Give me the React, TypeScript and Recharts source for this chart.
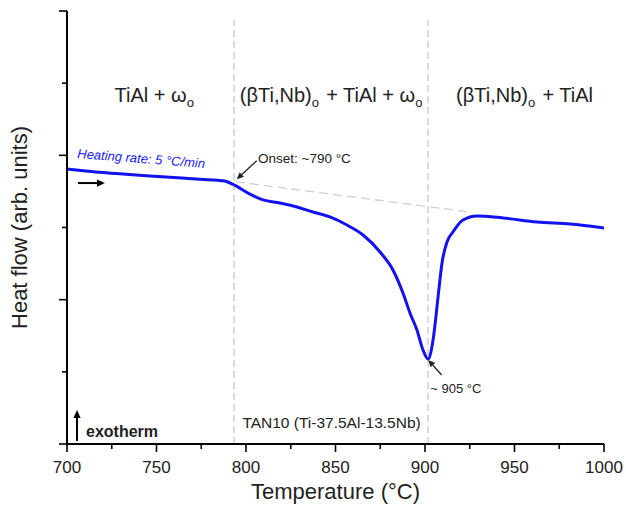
import React from "react";
import {
  LineChart,
  Line,
  XAxis,
  YAxis,
  ReferenceLine,
  ReferenceDot,
} from "recharts";

// DSC heating curve
const temperatures = [
  700, 709, 746.4, 774.3, 788, 792.5, 802.2, 809.5, 819, 828.5, 837.4, 846.9,
  856.4, 865.4, 874.9, 882.1, 887.7, 891.6, 895.5, 898.9, 901.7, 904.5, 907.3,
  909.5, 912.3, 915.6, 921.2, 929.1, 943.6, 962.6, 981, 1000,
];
const heatFlow = [
  1.905, 1.894, 1.857, 1.834, 1.822, 1.8, 1.731, 1.691, 1.67, 1.642, 1.607,
  1.573, 1.517, 1.448, 1.33, 1.206, 1.046, 0.908, 0.79, 0.651, 0.589, 0.721,
  1.019, 1.254, 1.4, 1.469, 1.552, 1.58, 1.566, 1.538, 1.524, 1.497,
];

const xTicks = [700, 725, 750, 775, 800, 825, 850, 875, 900, 925, 950, 975, 1000];
const yTicks = [0, 0.5, 1, 1.5, 2, 2.5, 3];

// phase boundaries (dashed verticals) and onset tangent
const boundaries = [793.3, 901.7];
const tangent = [
  { x: 786.6, y: 1.829 },
  { x: 925.1, y: 1.607 },
];

const data = temperatures.map((t, i) => ({ t, hf: heatFlow[i] }));

const FONT = "Arial, 'Liberation Sans', sans-serif";
const INK = "#222";

const XTick = ({ x, y, payload }: any) => {
  const major = payload.value % 50 === 0;
  return (
    <g>
      <line x1={x} y1={y} x2={x} y2={y + (major ? 8 : 5)} stroke="#000" strokeWidth={1.6} />
      {major && (
        <text x={x} y={y + 29} textAnchor="middle" fontSize={17} fill={INK} fontFamily={FONT}>
          {payload.value}
        </text>
      )}
    </g>
  );
};

const YTick = ({ x, y, payload }: any) => {
  const major = Number.isInteger(payload.value);
  return <line x1={x} y1={y} x2={x - (major ? 8 : 5)} y2={y} stroke="#000" strokeWidth={1.6} />;
};

const arrow = (x1: number, y1: number, x2: number, y2: number, color = INK, w = 1.3, head = 7) => {
  const a = Math.atan2(y2 - y1, x2 - x1);
  const hx = x2 - head * Math.cos(a);
  const hy = y2 - head * Math.sin(a);
  const px = Math.sin(a) * head * 0.45;
  const py = -Math.cos(a) * head * 0.45;
  return (
    <g>
      <line x1={x1} y1={y1} x2={hx} y2={hy} stroke={color} strokeWidth={w} />
      <polygon points={`${x2},${y2} ${hx + px},${hy + py} ${hx - px},${hy - py}`} fill={color} />
    </g>
  );
};

// annotation anchored at a data point
const note = (key: string, x: number, y: number, draw: (cx: number, cy: number) => any) => (
  <ReferenceDot
    key={key}
    x={x}
    y={y}
    r={0}
    ifOverflow="visible"
    isFront
    shape={(p: any) => draw(p.cx, p.cy)}
  />
);

const sub = (s: string) => (
  <>
    <tspan fontSize={13} dy={5}>{s}</tspan>
    <tspan dy={-5}>{"\u200a"}</tspan>
  </>
);

export default function App() {
  return (
    <div style={{ position: "absolute", left: 0, top: 0, width: 626, height: 511, background: "#fff" }}>
      <LineChart
        width={626}
        height={511}
        data={data}
        margin={{ top: 11, right: 22, left: 7, bottom: 37 }}
      >
        <XAxis
          dataKey="t"
          type="number"
          domain={[700, 1000]}
          ticks={xTicks}
          interval={0}
          tickSize={0}
          tickMargin={0}
          tickLine={false}
          tick={<XTick />}
          height={30}
          axisLine={{ stroke: "#000", strokeWidth: 2 }}
          label={(p: any) => (
            <text
              x={p.viewBox.x + p.viewBox.width / 2}
              y={p.viewBox.y + 55}
              textAnchor="middle"
              fontSize={22}
              fill={INK}
              fontFamily={FONT}
            >
              Temperature (°C)
            </text>
          )}
        />
        <YAxis
          type="number"
          domain={[0, 3]}
          ticks={yTicks}
          interval={0}
          width={60}
          tickSize={0}
          tickMargin={0}
          tickLine={false}
          tick={<YTick />}
          axisLine={{ stroke: "#000", strokeWidth: 2 }}
          label={(p: any) => {
            const cx = p.viewBox.x + 20;
            const cy = p.viewBox.y + p.viewBox.height / 2;
            return (
              <text
                x={cx}
                y={cy}
                transform={`rotate(-90, ${cx}, ${cy})`}
                textAnchor="middle"
                fontSize={22}
                fill={INK}
                fontFamily={FONT}
              >
                Heat flow (arb. units)
              </text>
            );
          }}
        />
        {boundaries.map((b) => (
          <ReferenceLine
            key={b}
            segment={[
              { x: b, y: 0 },
              { x: b, y: 2.938 },
            ]}
            stroke="#c8c8c8"
            strokeWidth={1.3}
            strokeDasharray="7 4"
          />
        ))}
        <ReferenceLine segment={tangent} stroke="#cfcfcf" strokeWidth={1.3} strokeDasharray="9 5" />
        <Line
          dataKey="hf"
          type="monotone"
          stroke="#1212f0"
          strokeWidth={3}
          dot={false}
          isAnimationActive={false}
        />

        {note("ph1", 749.2, 2.37, (cx, cy) => (
          <text x={cx} y={cy} textAnchor="middle" fontSize={20} fill={INK} fontFamily={FONT}>
            TiAl + ω{sub("o")}
          </text>
        ))}
        {note("ph2", 848, 2.37, (cx, cy) => (
          <text x={cx} y={cy} textAnchor="middle" fontSize={20} fill={INK} fontFamily={FONT}>
            (βTi,Nb){sub("o")} + TiAl + ω{sub("o")}
          </text>
        ))}
        {note("ph3", 955.6, 2.37, (cx, cy) => (
          <text x={cx} y={cy} textAnchor="middle" fontSize={20} fill={INK} fontFamily={FONT}>
            (βTi,Nb){sub("o")} + TiAl
          </text>
        ))}
        {note("rate", 705.6, 1.982, (cx, cy) => (
          <text
            x={cx}
            y={cy}
            transform={`rotate(4.5, ${cx}, ${cy})`}
            fontSize={13}
            fontStyle="italic"
            fill="#1a1aff"
            fontFamily={FONT}
          >
            Heating rate: 5 °C/min
          </text>
        ))}
        {note("dir", 706.1, 1.808, (cx, cy) => arrow(cx, cy, cx + 27, cy, "#000", 2, 8))}
        {note("onset", 794.8, 1.834, (cx, cy) => (
          <g>
            {arrow(cx + 20, cy - 18.6, cx, cy)}
            <text x={cx + 21.3} y={cy - 16.3} fontSize={13.5} fill={INK} fontFamily={FONT}>
              Onset: ~790 °C
            </text>
          </g>
        ))}
        {note("peak", 901.8, 0.582, (cx, cy) => (
          <g>
            {arrow(cx + 13.4, cy + 15, cx, cy)}
            <text x={cx + 2} y={cy + 33} fontSize={13} fill={INK} fontFamily={FONT}>
              ~ 905 °C
            </text>
          </g>
        ))}
        {note("alloy", 847.8, 0.111, (cx, cy) => (
          <text x={cx} y={cy} textAnchor="middle" fontSize={15.5} fill={INK} fontFamily={FONT}>
            TAN10 (Ti-37.5Al-13.5Nb)
          </text>
        ))}
        {note("exo", 705.6, 0.021, (cx, cy) => (
          <g>
            {arrow(cx, cy, cx, cy - 31, "#000", 2, 8)}
            <text x={cx + 9} y={cy - 4} fontSize={16} fontWeight="bold" fill={INK} fontFamily={FONT}>
              exotherm
            </text>
          </g>
        ))}
      </LineChart>
    </div>
  );
}
